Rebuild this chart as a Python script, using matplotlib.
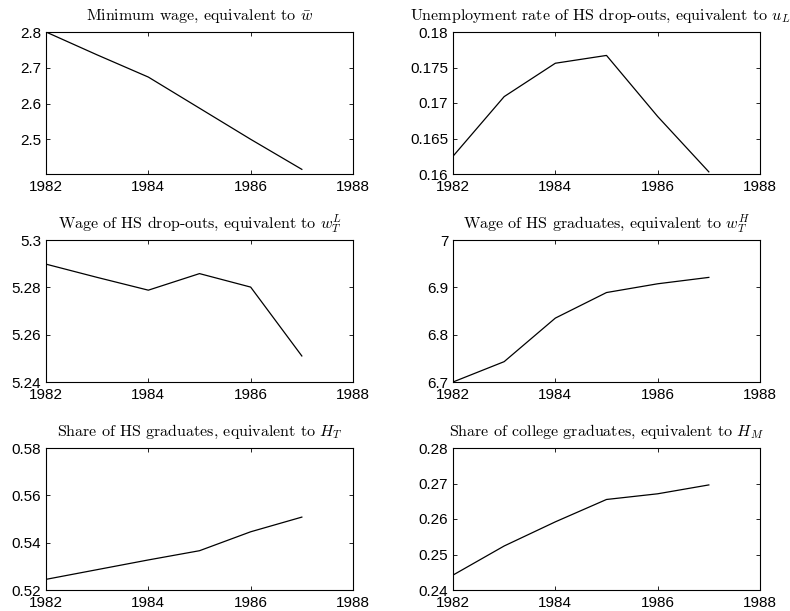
import numpy as np
import matplotlib.pyplot as plt

plt.rcParams['mathtext.fontset'] = 'cm'
plt.rcParams['font.family'] = 'Liberation Sans'

years = [1982, 1983, 1984, 1985, 1986, 1987]

min_wage = [2.800, 2.736, 2.674, 2.587, 2.500, 2.416]
unemp_dropouts = [0.1625, 0.1709, 0.1756, 0.1767, 0.1681, 0.1603]
wage_dropouts = [5.2898, 5.2842, 5.2788, 5.2858, 5.2801, 5.2510]
wage_hs = [6.700, 6.743, 6.835, 6.889, 6.9075, 6.921]
share_hs = [0.5245, 0.5286, 0.5327, 0.5366, 0.5446, 0.5508]
share_college = [0.2442, 0.2524, 0.2592, 0.2655, 0.2671, 0.2696]

titles = [r'Minimum wage, equivalent to $\bar{w}$',
          r'Unemployment rate of HS drop-outs, equivalent to $u_L$',
          r'Wage of HS drop-outs, equivalent to $w_T^L$',
          r'Wage of HS graduates, equivalent to $w_T^H$',
          r'Share of HS graduates, equivalent to $H_T$',
          r'Share of college graduates, equivalent to $H_M$']
series = [min_wage, unemp_dropouts, wage_dropouts, wage_hs, share_hs, share_college]
ylims = [(2.403, 2.8), (0.16, 0.18), (5.24, 5.3), (6.7, 7.0), (0.52, 0.58), (0.24, 0.28)]
yticks = [[2.5, 2.6, 2.7, 2.8],
          [0.16, 0.165, 0.17, 0.175, 0.18],
          [5.24, 5.26, 5.28, 5.3],
          [6.7, 6.8, 6.9, 7.0],
          [0.52, 0.54, 0.56, 0.58],
          [0.24, 0.25, 0.26, 0.27, 0.28]]
yticklabels = [['2.5', '2.6', '2.7', '2.8'],
               ['0.16', '0.165', '0.17', '0.175', '0.18'],
               ['5.24', '5.26', '5.28', '5.3'],
               ['6.7', '6.8', '6.9', '7'],
               ['0.52', '0.54', '0.56', '0.58'],
               ['0.24', '0.25', '0.26', '0.27', '0.28']]

fig = plt.figure(figsize=(7.9, 6.11), dpi=100)
W, H = 790.0, 611.0
lefts = [46, 453]
tops = [32, 240, 448]
aw, ah = 307, 142

for i in range(6):
    r, c = divmod(i, 2)
    ax = fig.add_axes([lefts[c] / W, 1 - (tops[r] + ah) / H, aw / W, ah / H])
    ax.plot(years, series[i], color='k', lw=0.9)
    ax.set_xlim(1982, 1988)
    ax.set_ylim(*ylims[i])
    ax.set_xticks([1982, 1984, 1986, 1988])
    ax.set_yticks(yticks[i])
    ax.set_yticklabels(yticklabels[i])
    ax.tick_params(direction='in', top=True, right=True, labelsize=11,
                   length=3, width=0.6)
    ax.tick_params(axis='x', pad=4.5)
    ax.tick_params(axis='y', pad=3.5)
    for s in ax.spines.values():
        s.set_linewidth(0.8)
    # the long title runs off the right edge, nudge it left a bit
    tx = 0.48 if i == 1 else 0.5
    ax.set_title(titles[i], fontsize=11.5, family='cmr10', pad=8.5, x=tx)

plt.savefig('out.png', dpi=100)
